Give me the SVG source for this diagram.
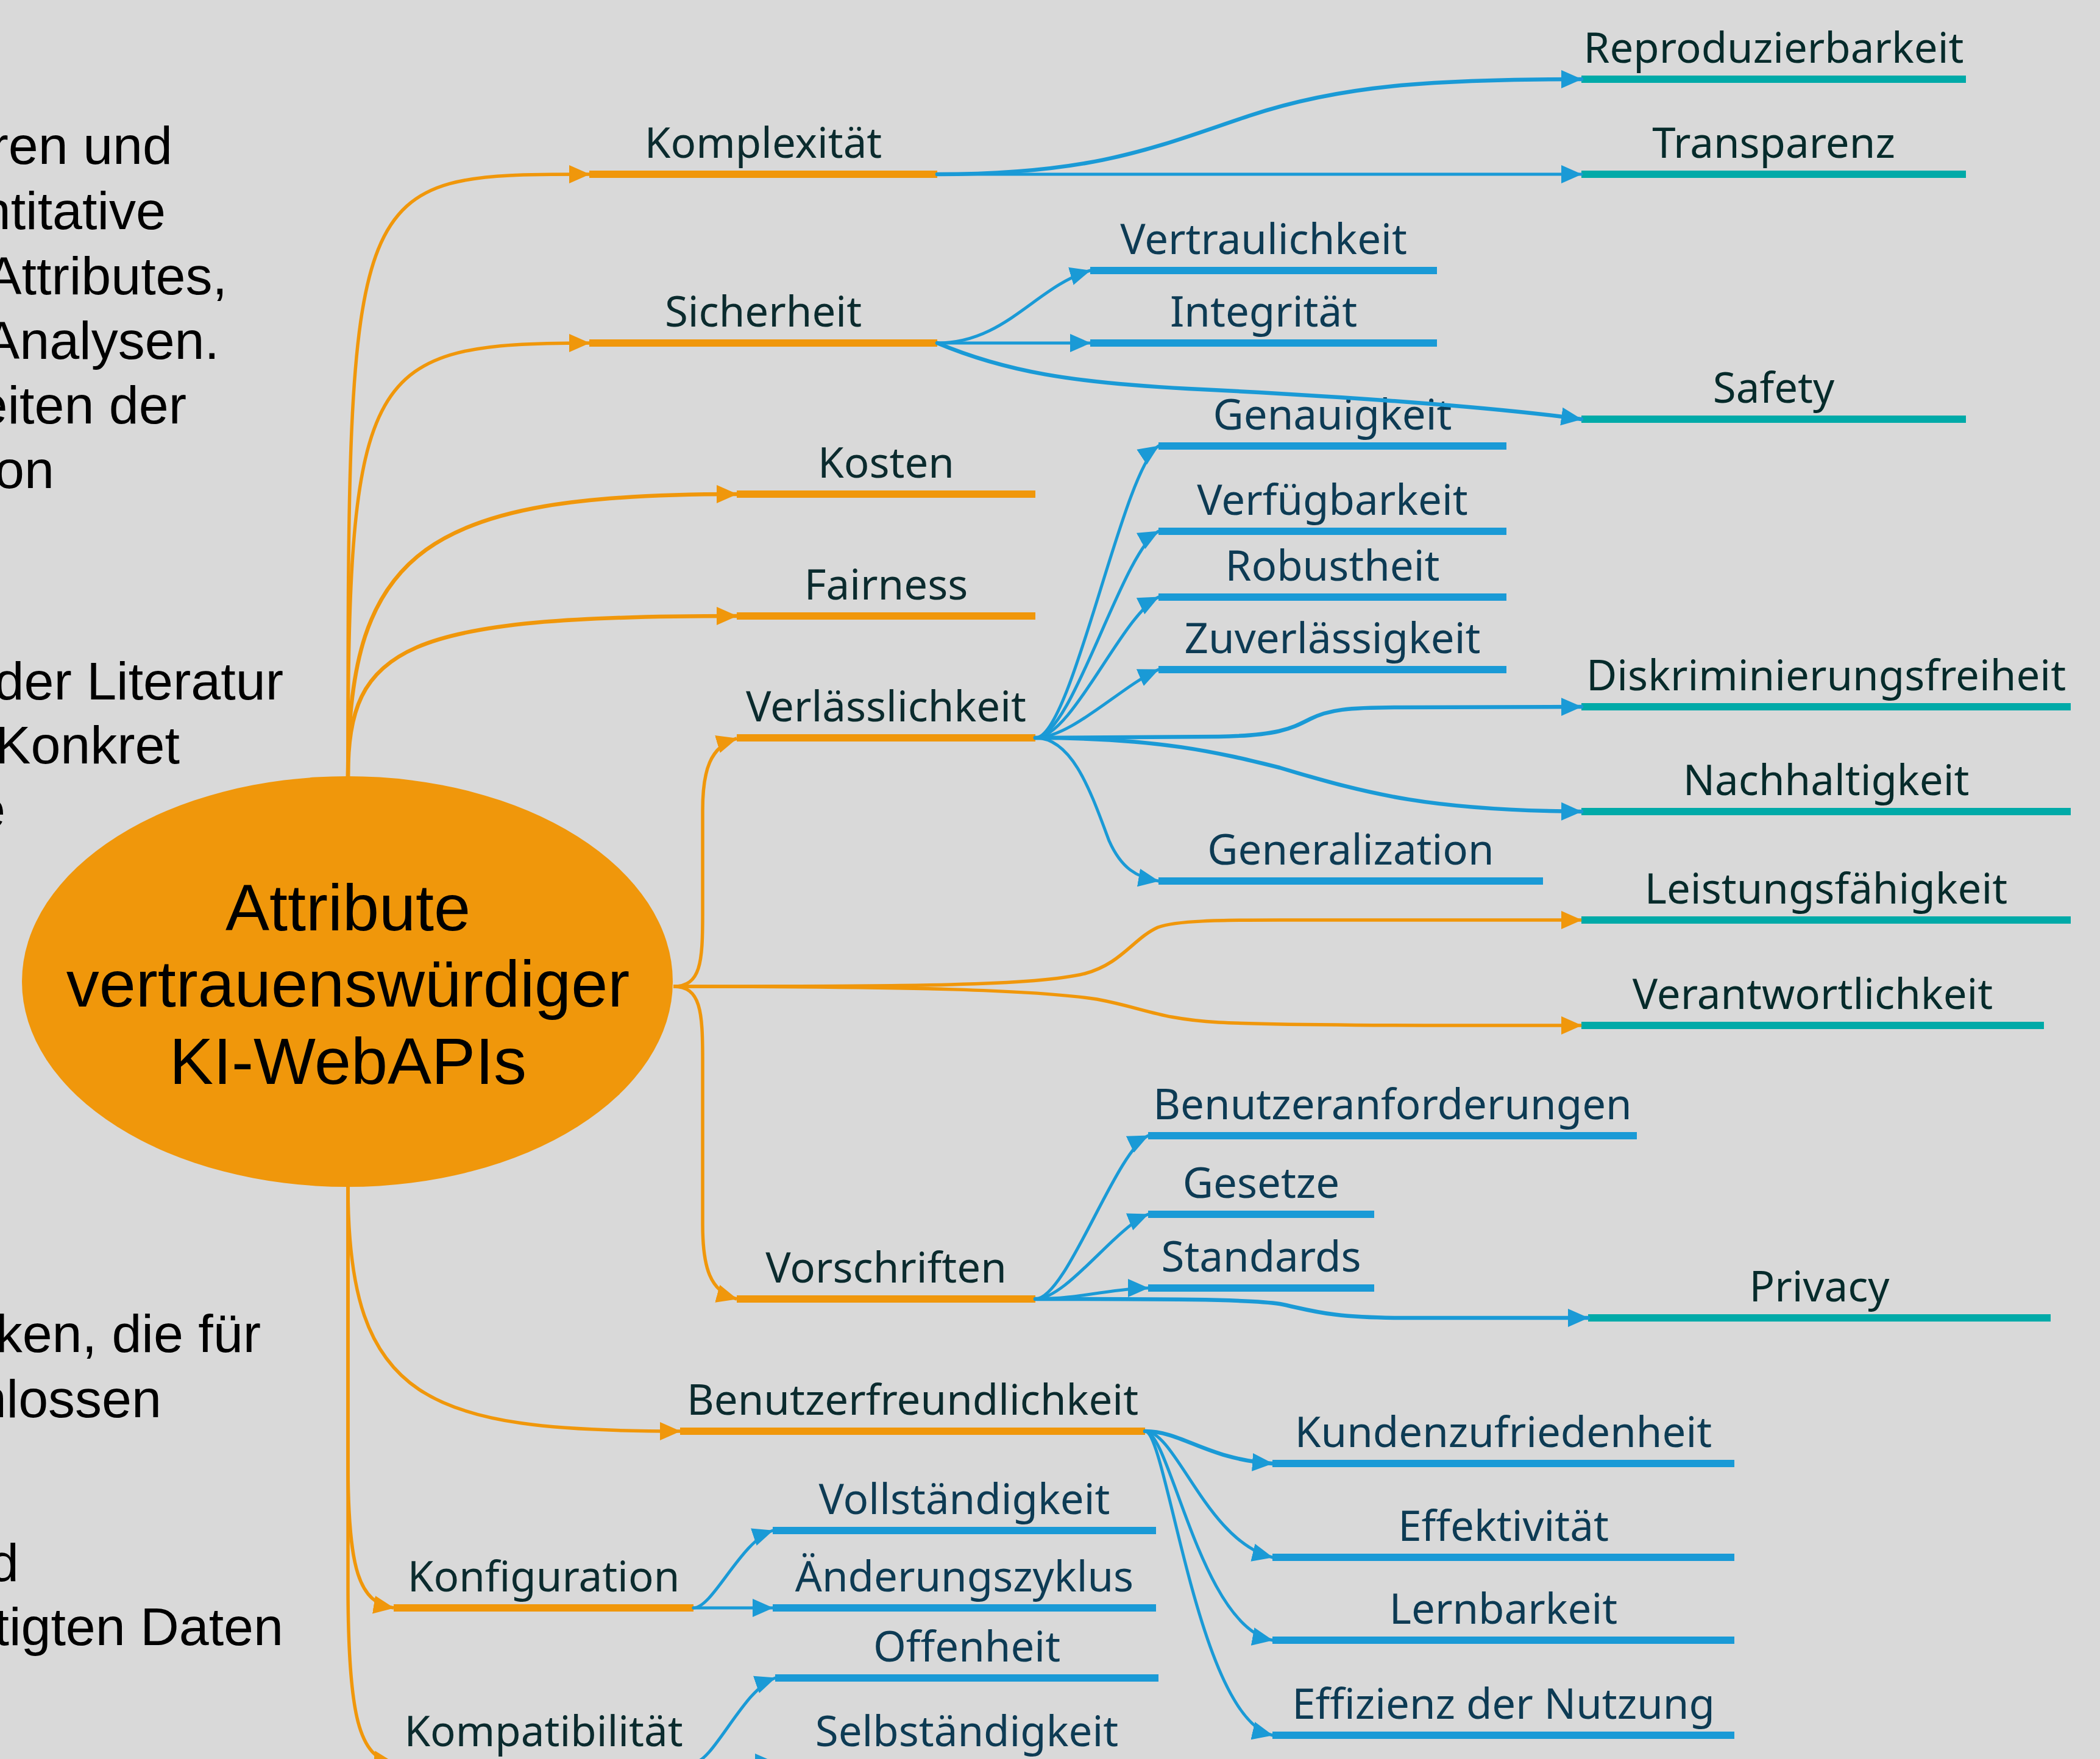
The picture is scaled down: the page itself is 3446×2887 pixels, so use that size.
<svg xmlns="http://www.w3.org/2000/svg" width="3446" height="2887" viewBox="0 0 3446 2887">
  <defs>
    <style>
      .note { font-family: "Liberation Sans", Arial, sans-serif; font-size: 88px; fill: #000; text-anchor: end; }
      .root { font-family: "Liberation Sans", Arial, sans-serif; font-size: 108px; fill: #000; text-anchor: middle; }
      .lbl { font-family: "Noto Sans", "Open Sans", sans-serif; font-size: 69px; text-anchor: middle; }
      .lo { fill: #0b2b2e; }
      .lb { fill: #0d3b54; }
      .lt { fill: #062b2b; }
      .bo { stroke: #f0970b; stroke-width: 12; }
      .bb { stroke: #1a9ad6; stroke-width: 12; }
      .bt { stroke: #00aaa8; stroke-width: 12; }
      .co { fill: none; stroke: #f0970b; stroke-width: 5.5; marker-end: url(#arrow-o); }
      .cb { fill: none; stroke: #1a9ad6; stroke-width: 5; stroke-linecap: round; marker-end: url(#arrow-b); }
      .thick { stroke-width: 6.5; }
    </style>
    <marker id="arrow-o" markerUnits="userSpaceOnUse" markerWidth="34" markerHeight="32" viewBox="0 0 34 32" refX="33" refY="16" orient="auto">
      <path d="M0,1 L34,16 L0,31 Z" fill="#f0970b"/>
    </marker>
    <marker id="arrow-b" markerUnits="userSpaceOnUse" markerWidth="34" markerHeight="32" viewBox="0 0 34 32" refX="33" refY="16" orient="auto">
      <path d="M0,1 L34,16 L0,31 Z" fill="#1a9ad6"/>
    </marker>
  </defs>

  <rect width="3446" height="2887" fill="#d9d9d9"/>

  <!-- side notes, running off the left edge -->
  <g id="notes">
    <text class="note" x="283" y="269">ren und</text>
    <text class="note" x="272" y="376">ntitative</text>
    <text class="note" x="373" y="483">Attributes,</text>
    <text class="note" x="360" y="589">Analysen.</text>
    <text class="note" x="306" y="695">eiten der</text>
    <text class="note" x="89" y="801">on</text>
    <text class="note" x="465" y="1148">der Literatur</text>
    <text class="note" x="295" y="1253">Konkret</text>
    <text class="note" x="9" y="1358">e</text>
    <text class="note" x="428" y="2219">ken, die für</text>
    <text class="note" x="265" y="2326">nlossen</text>
    <text class="note" x="31" y="2595">d</text>
    <text class="note" x="465" y="2700">tigten Daten</text>
  </g>

  <!-- central topic -->
  <g id="root">
    <ellipse cx="570" cy="1611" rx="534" ry="337" fill="#f0970b"/>
    <text class="root" x="571" y="1527">Attribute</text>
    <text class="root" x="571" y="1652">vertrauenswürdiger</text>
    <text class="root" x="571" y="1779">KI-WebAPIs</text>
  </g>

  <!-- main branches -->
  <g id="n-komplexitaet"><line class="bo" x1="967" y1="286" x2="1538" y2="286"/><text class="lbl lo" x="1252.5" y="259">Komplexität</text></g>
  <g id="n-sicherheit"><line class="bo" x1="967" y1="563" x2="1538" y2="563"/><text class="lbl lo" x="1252.5" y="536">Sicherheit</text></g>
  <g id="n-kosten"><line class="bo" x1="1209" y1="811" x2="1699" y2="811"/><text class="lbl lo" x="1454" y="784">Kosten</text></g>
  <g id="n-fairness"><line class="bo" x1="1209" y1="1011" x2="1699" y2="1011"/><text class="lbl lo" x="1454" y="984">Fairness</text></g>
  <g id="n-verlaesslichkeit"><line class="bo" x1="1209" y1="1211" x2="1699" y2="1211"/><text class="lbl lo" x="1454" y="1184">Verlässlichkeit</text></g>
  <g id="n-vorschriften"><line class="bo" x1="1209" y1="2132" x2="1699" y2="2132"/><text class="lbl lo" x="1454" y="2105">Vorschriften</text></g>
  <g id="n-benutzerfreundlichkeit"><line class="bo" x1="1116" y1="2349" x2="1879" y2="2349"/><text class="lbl lo" x="1497.5" y="2322">Benutzerfreundlichkeit</text></g>
  <g id="n-konfiguration"><line class="bo" x1="646" y1="2639" x2="1138" y2="2639"/><text class="lbl lo" x="892" y="2612">Konfiguration</text></g>
  <g id="n-kompatibilitaet"><line class="bo" x1="646" y1="2893" x2="1138" y2="2893"/><text class="lbl lo" x="892" y="2866">Kompatibilität</text></g>

  <!-- sub topics -->
  <g id="n-reproduzierbarkeit"><line class="bt" x1="2595" y1="130" x2="3226" y2="130"/><text class="lbl lt" x="2910.5" y="103">Reproduzierbarkeit</text></g>
  <g id="n-transparenz"><line class="bt" x1="2595" y1="286" x2="3226" y2="286"/><text class="lbl lt" x="2910.5" y="259">Transparenz</text></g>
  <g id="n-vertraulichkeit"><line class="bb" x1="1789" y1="444" x2="2358" y2="444"/><text class="lbl lb" x="2073.5" y="417">Vertraulichkeit</text></g>
  <g id="n-integritaet"><line class="bb" x1="1789" y1="563" x2="2358" y2="563"/><text class="lbl lb" x="2073.5" y="536">Integrität</text></g>
  <g id="n-safety"><line class="bt" x1="2595" y1="688" x2="3226" y2="688"/><text class="lbl lt" x="2910.5" y="661">Safety</text></g>
  <g id="n-genauigkeit"><line class="bb" x1="1901" y1="732" x2="2472" y2="732"/><text class="lbl lb" x="2186.5" y="705">Genauigkeit</text></g>
  <g id="n-verfuegbarkeit"><line class="bb" x1="1901" y1="872" x2="2472" y2="872"/><text class="lbl lb" x="2186.5" y="845">Verfügbarkeit</text></g>
  <g id="n-robustheit"><line class="bb" x1="1901" y1="980" x2="2472" y2="980"/><text class="lbl lb" x="2186.5" y="953">Robustheit</text></g>
  <g id="n-zuverlaessigkeit"><line class="bb" x1="1901" y1="1099" x2="2472" y2="1099"/><text class="lbl lb" x="2186.5" y="1072">Zuverlässigkeit</text></g>
  <g id="n-diskriminierungsfreiheit"><line class="bt" x1="2595" y1="1160" x2="3398" y2="1160"/><text class="lbl lt" x="2996.5" y="1133">Diskriminierungsfreiheit</text></g>
  <g id="n-nachhaltigkeit"><line class="bt" x1="2595" y1="1332" x2="3398" y2="1332"/><text class="lbl lt" x="2996.5" y="1305">Nachhaltigkeit</text></g>
  <g id="n-generalization"><line class="bb" x1="1901" y1="1446" x2="2532" y2="1446"/><text class="lbl lb" x="2216.5" y="1419">Generalization</text></g>
  <g id="n-leistungsfaehigkeit"><line class="bt" x1="2595" y1="1510" x2="3398" y2="1510"/><text class="lbl lt" x="2996.5" y="1483">Leistungsfähigkeit</text></g>
  <g id="n-verantwortlichkeit"><line class="bt" x1="2595" y1="1683" x2="3354" y2="1683"/><text class="lbl lt" x="2974.5" y="1656">Verantwortlichkeit</text></g>
  <g id="n-benutzeranforderungen"><line class="bb" x1="1884" y1="1864" x2="2686" y2="1864"/><text class="lbl lb" x="2285" y="1837">Benutzeranforderungen</text></g>
  <g id="n-gesetze"><line class="bb" x1="1884" y1="1993" x2="2255" y2="1993"/><text class="lbl lb" x="2069.5" y="1966">Gesetze</text></g>
  <g id="n-standards"><line class="bb" x1="1884" y1="2114" x2="2255" y2="2114"/><text class="lbl lb" x="2069.5" y="2087">Standards</text></g>
  <g id="n-privacy"><line class="bt" x1="2606" y1="2163" x2="3365" y2="2163"/><text class="lbl lt" x="2985.5" y="2136">Privacy</text></g>
  <g id="n-kundenzufriedenheit"><line class="bb" x1="2088" y1="2402" x2="2846" y2="2402"/><text class="lbl lb" x="2467" y="2375">Kundenzufriedenheit</text></g>
  <g id="n-effektivitaet"><line class="bb" x1="2088" y1="2556" x2="2846" y2="2556"/><text class="lbl lb" x="2467" y="2529">Effektivität</text></g>
  <g id="n-lernbarkeit"><line class="bb" x1="2088" y1="2692" x2="2846" y2="2692"/><text class="lbl lb" x="2467" y="2665">Lernbarkeit</text></g>
  <g id="n-effizienz"><line class="bb" x1="2088" y1="2848" x2="2846" y2="2848"/><text class="lbl lb" x="2467" y="2821">Effizienz der Nutzung</text></g>
  <g id="n-vollstaendigkeit"><line class="bb" x1="1268" y1="2512" x2="1897" y2="2512"/><text class="lbl lb" x="1582.5" y="2485">Vollständigkeit</text></g>
  <g id="n-aenderungszyklus"><line class="bb" x1="1268" y1="2639" x2="1897" y2="2639"/><text class="lbl lb" x="1582.5" y="2612">Änderungszyklus</text></g>
  <g id="n-offenheit"><line class="bb" x1="1272" y1="2754" x2="1901" y2="2754"/><text class="lbl lb" x="1586.5" y="2727">Offenheit</text></g>
  <g id="n-selbstaendigkeit"><line class="bb" x1="1272" y1="2893" x2="1901" y2="2893"/><text class="lbl lb" x="1586.5" y="2866">Selbständigkeit</text></g>

  <!-- connectors -->
  <g id="connectors">
    <!-- from the central topic -->
    <path class="co" d="M571,1275 C571,286 571,286 967,286"/>
    <path class="co" d="M571,1275 C571,600 600,563 967,563"/>
    <path class="co thick" d="M571,1275 C571,900 700,811 1209,811"/>
    <path class="co thick" d="M571,1275 C571,1060 660,1011 1209,1011"/>
    <path class="co" d="M1105,1619 C1150,1619 1153,1580 1153,1500 L1153,1330 C1153,1265 1165,1225 1209,1212"/>
    <path class="co" d="M1105,1619 C1150,1619 1153,1660 1153,1740 L1153,2010 C1153,2080 1165,2120 1209,2132"/>
    <path class="co" d="M1105,1619 C1500,1619 1700,1618 1780,1598 C1840,1582 1860,1540 1900,1522 C1930,1511 2000,1510 2100,1510 L2595,1510"/>
    <path class="co" d="M1105,1619 C1500,1619 1700,1625 1800,1640 C1880,1655 1900,1672 2000,1678 C2100,1683 2300,1683 2595,1683"/>
    <path class="co" d="M571,1947 C571,2300 700,2349 1116,2349"/>
    <path class="co" d="M571,1947 L571,2400 C571,2580 590,2630 646,2639"/>
    <path class="co" d="M571,1947 L571,2600 C571,2820 590,2885 646,2893"/>

    <!-- Komplexität -->
    <path class="cb thick" d="M1538,286 C1800,286 1900,240 2050,190 C2200,140 2350,130 2595,130"/>
    <path class="cb" d="M1538,286 L2595,286"/>
    <!-- Sicherheit -->
    <path class="cb" d="M1538,563 C1650,563 1700,470 1789,444"/>
    <path class="cb" d="M1538,563 L1789,563"/>
    <path class="cb thick" d="M1538,563 C1650,610 1760,628 1950,638 C2200,650 2450,668 2595,688"/>
    <!-- Verlässlichkeit -->
    <path class="cb" d="M1699,1211 C1759,1211 1841,772 1901,732"/>
    <path class="cb" d="M1699,1211 C1759,1211 1841,905 1901,872"/>
    <path class="cb" d="M1699,1211 C1759,1211 1841,1010 1901,980"/>
    <path class="cb" d="M1699,1211 C1759,1211 1841,1125 1901,1099"/>
    <path class="cb thick" d="M1699,1211 L2000,1209 C2100,1207 2120,1195 2150,1180 C2180,1165 2210,1161 2300,1161 L2595,1160"/>
    <path class="cb thick" d="M1699,1211 C1900,1211 2000,1235 2100,1260 C2250,1305 2350,1330 2595,1332"/>
    <path class="cb" d="M1699,1211 C1760,1211 1790,1300 1820,1380 C1840,1425 1865,1440 1901,1446"/>
    <!-- Vorschriften -->
    <path class="cb" d="M1699,2132 C1750,2132 1830,1890 1884,1864"/>
    <path class="cb" d="M1699,2132 C1750,2132 1830,2015 1884,1993"/>
    <path class="cb" d="M1699,2132 C1770,2132 1830,2114 1884,2114"/>
    <path class="cb thick" d="M1699,2132 C1900,2132 2050,2132 2100,2140 C2150,2150 2180,2163 2300,2163 L2606,2163"/>
    <!-- Benutzerfreundlichkeit -->
    <path class="cb thick" d="M1879,2349 C1940,2349 1980,2395 2088,2402"/>
    <path class="cb" d="M1879,2349 C1930,2349 1980,2530 2088,2556"/>
    <path class="cb" d="M1879,2349 C1920,2349 1970,2670 2088,2692"/>
    <path class="cb" d="M1879,2349 C1915,2349 1965,2820 2088,2848"/>
    <!-- Konfiguration -->
    <path class="cb" d="M1138,2639 C1170,2639 1215,2530 1268,2512"/>
    <path class="cb" d="M1138,2639 L1268,2639"/>
    <!-- Kompatibilität -->
    <path class="cb" d="M1138,2893 C1170,2893 1220,2772 1272,2754"/>
    <path class="cb" d="M1138,2893 L1272,2893"/>
  </g>
</svg>
